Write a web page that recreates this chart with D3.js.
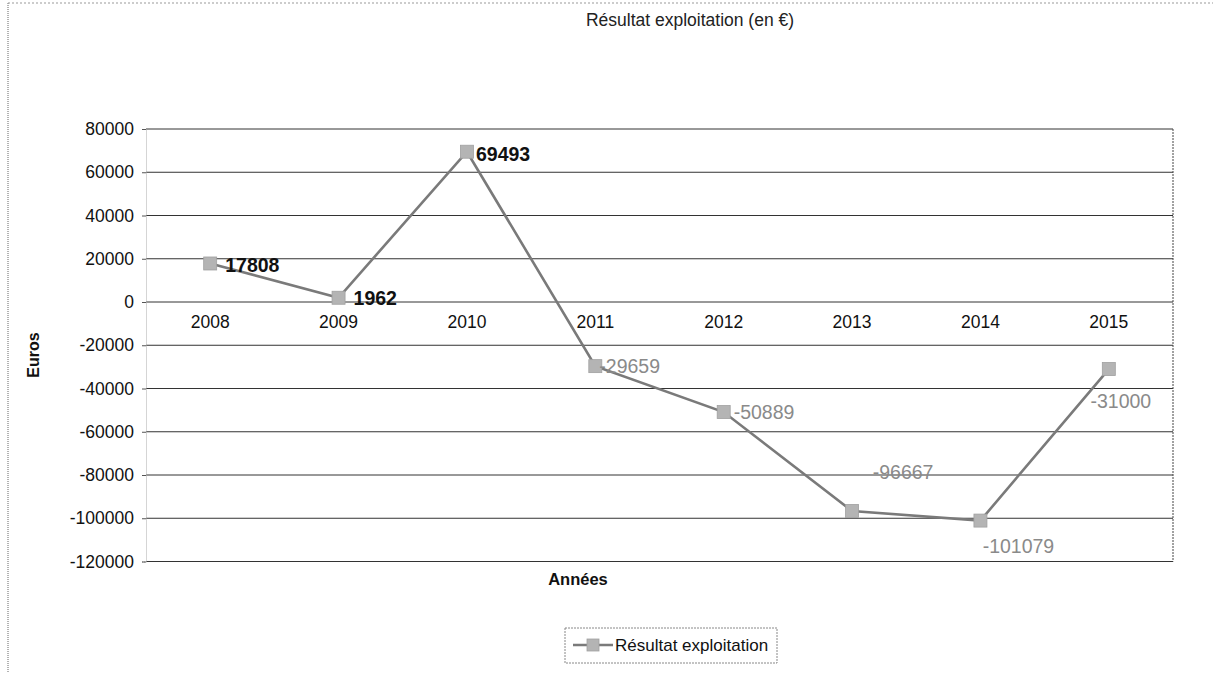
<!DOCTYPE html>
<html><head><meta charset="utf-8">
<script src="https://cdn.jsdelivr.net/npm/d3@7/dist/d3.min.js"></script>
<style>body{margin:0;background:#fff;} svg{display:block;font-family:"Liberation Sans",Arial,sans-serif;}</style>
</head><body>
<svg id="c" width="1213" height="673"></svg>
<script>
const years = ["2008","2009","2010","2011","2012","2013","2014","2015"];
const values = [17808, 1962, 69493, -29659, -50889, -96667, -101079, -31000];
const yTicks = [80000, 60000, 40000, 20000, 0, -20000, -40000, -60000, -80000, -100000, -120000];
const labelOffsets = [[15,2],[15,0],[9,2],[4,0],[10,0],[51,-39],[38,25],[12,32]];

const svg = d3.select("#c");
const L = 146, R = 1173, T = 129, B = 561.5;
const x = d3.scaleBand().domain(years).range([L, R]);
const y = d3.scaleLinear().domain([-120000, 80000]).range([B, T]);

// outer frame
svg.append("line").attr("x1",8).attr("x2",8).attr("y1",3).attr("y2",673).attr("stroke","#666").attr("stroke-dasharray","1,1");
svg.append("line").attr("x1",8).attr("x2",1213).attr("y1",3).attr("y2",3).attr("stroke","#999").attr("stroke-dasharray","2,2");

// gridlines
svg.append("g").selectAll("line").data(yTicks).join("line")
  .attr("x1", L).attr("x2", R).attr("y1", d=>y(d)).attr("y2", d=>y(d))
  .attr("stroke", "#333").attr("stroke-width", 1);
// right border
svg.append("line").attr("x1",R).attr("x2",R).attr("y1",T).attr("y2",B).attr("stroke","#444").attr("stroke-dasharray","2,1");
// left axis
const yAxis = d3.axisLeft(y).tickValues(yTicks).tickSize(4).tickPadding(8).tickFormat(d3.format("d"));
const ga = svg.append("g").attr("transform",`translate(${L},0)`).call(yAxis);
ga.select(".domain").attr("stroke","#aaa").attr("stroke-dasharray","1,1");
ga.selectAll(".tick line").attr("stroke","#555");
ga.selectAll("text").attr("font-size",17.5).attr("fill","#111").text(d=>String(d));

// x labels at zero line
const xAxis = d3.axisBottom(x).tickSize(0).tickPadding(14);
const gx = svg.append("g").attr("transform",`translate(0,${y(0)})`).call(xAxis);
gx.select(".domain").remove();
gx.selectAll("text").attr("font-size",17.5).attr("fill","#111");

// line
const line = d3.line().x((d,i)=>x(years[i])+x.bandwidth()/2).y(d=>y(d));
svg.append("path").datum(values).attr("d", line).attr("fill","none")
  .attr("stroke","#7a7a7a").attr("stroke-width",2.6);
// markers
const ms = 13;
svg.append("g").selectAll("rect").data(values).join("rect")
  .attr("x",(d,i)=>x(years[i])+x.bandwidth()/2-ms/2).attr("y",d=>y(d)-ms/2)
  .attr("width",ms).attr("height",ms).attr("fill","#b4b4b4").attr("stroke","#a0a0a0").attr("stroke-width",0.8);

// data labels
svg.append("g").selectAll("text").data(values).join("text")
  .attr("x",(d,i)=>x(years[i])+x.bandwidth()/2+labelOffsets[i][0])
  .attr("y",(d,i)=>y(d)+labelOffsets[i][1])
  .attr("dominant-baseline","central")
  .attr("text-anchor",(d,i)=> i>=5 ? "middle":"start")
  .attr("font-size",19.5)
  .attr("font-weight",d=>d>0?"bold":"normal")
  .attr("fill",d=>d>0?"#111":"#8a8a8a")
  .text(d=>String(d));

// titles
svg.append("text").attr("x",690).attr("y",20).attr("text-anchor","middle").attr("dominant-baseline","central")
  .attr("font-size",17.5).attr("fill","#222").text("Résultat exploitation (en €)");
svg.append("text").attr("x",578).attr("y",579).attr("text-anchor","middle").attr("dominant-baseline","central")
  .attr("font-size",16.5).attr("font-weight","bold").attr("fill","#111").text("Années");
svg.append("text").attr("transform","translate(33,355) rotate(-90)").attr("text-anchor","middle").attr("dominant-baseline","central")
  .attr("font-size",16).attr("font-weight","bold").attr("fill","#111").text("Euros");

// legend
const lg = svg.append("g");
lg.append("rect").attr("x",565).attr("y",628).attr("width",212).attr("height",35).attr("fill","none")
  .attr("stroke","#888").attr("stroke-dasharray","2,1");
lg.append("line").attr("x1",573).attr("x2",613).attr("y1",645).attr("y2",645).attr("stroke","#7a7a7a").attr("stroke-width",2.6);
lg.append("rect").attr("x",587).attr("y",639).attr("width",12).attr("height",12).attr("fill","#b4b4b4").attr("stroke","#a0a0a0").attr("stroke-width",0.8);
lg.append("text").attr("x",615).attr("y",645).attr("dominant-baseline","central").attr("font-size",17).attr("fill","#111").text("Résultat exploitation");
</script>
</body></html>
